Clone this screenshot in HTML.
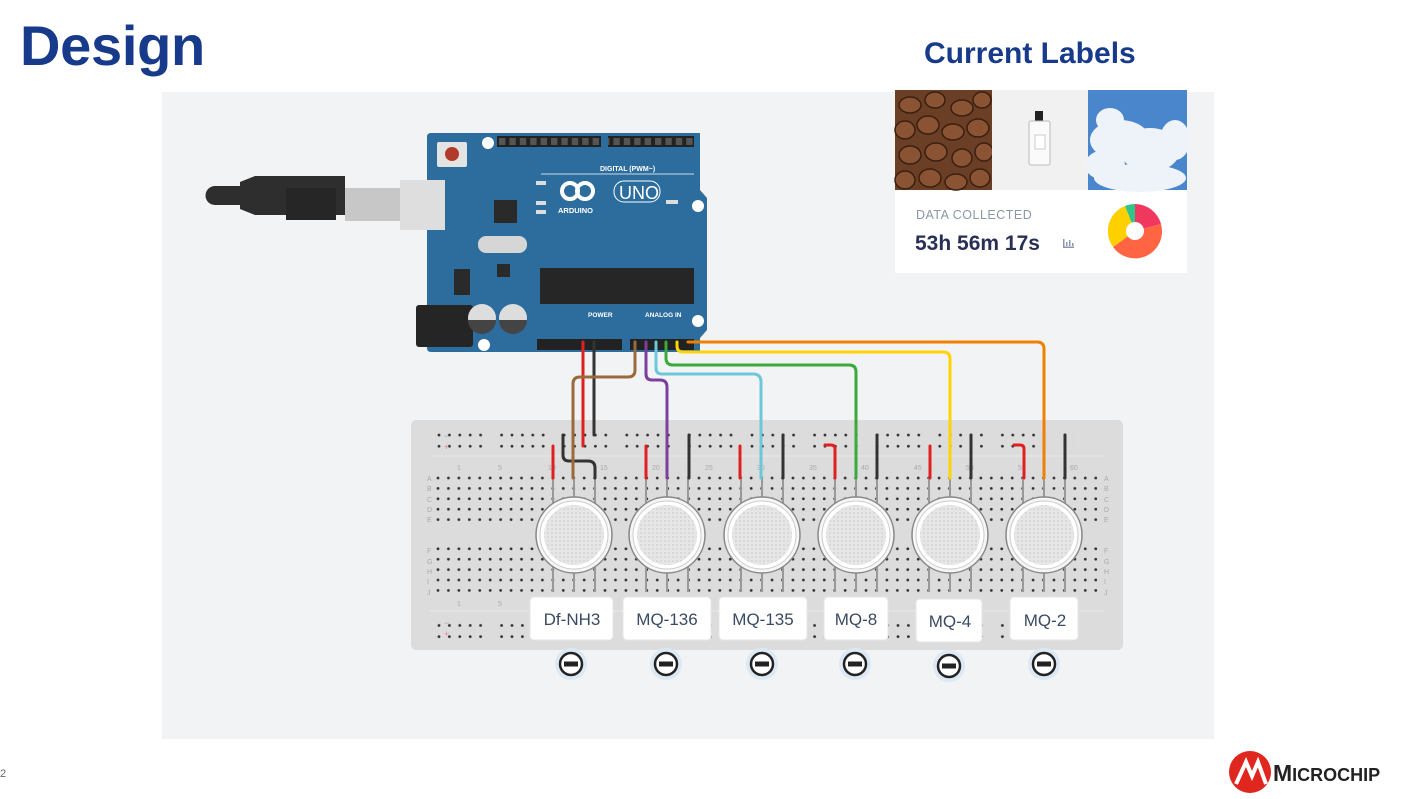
<!DOCTYPE html>
<html><head><meta charset="utf-8"><style>
html,body{margin:0;padding:0;background:#fff;width:1404px;height:799px;overflow:hidden;font-family:"Liberation Sans",sans-serif}
.abs{position:absolute}
</style></head><body>
<div class="abs" style="left:20px;top:13px;font-size:56px;font-weight:bold;color:#173a8a;letter-spacing:-0.3px">Design</div>
<div class="abs" style="left:924px;top:37px;font-size:30px;font-weight:bold;color:#173a8a">Current Labels</div>
<div class="abs" style="left:0;top:768px;font-size:11px;color:#666">2</div>
<svg class="abs" style="left:0;top:0" width="1404" height="799" viewBox="0 0 1404 799">
<defs>
<pattern id="hole" x="432.8" y="472.8" width="10.44" height="10.4" patternUnits="userSpaceOnUse"><circle cx="5.2" cy="5.2" r="1.4" fill="#333"/></pattern>
<pattern id="rail" x="434" y="430" width="62.6" height="11.2" patternUnits="userSpaceOnUse">
<circle cx="5" cy="5" r="1.4" fill="#333"/><circle cx="15.4" cy="5" r="1.4" fill="#333"/><circle cx="25.8" cy="5" r="1.4" fill="#333"/><circle cx="36.2" cy="5" r="1.4" fill="#333"/><circle cx="46.6" cy="5" r="1.4" fill="#333"/></pattern>
<pattern id="pins" x="497" y="136" width="10.4" height="11" patternUnits="userSpaceOnUse"><rect x="2" y="2" width="6.4" height="7" fill="#555"/></pattern>
<pattern id="mesh" width="4" height="4" patternUnits="userSpaceOnUse"><rect width="4" height="4" fill="#e6e6e6"/><circle cx="2" cy="2" r="0.8" fill="#c8c8c8"/></pattern>
</defs>
<rect x="162" y="92" width="1052" height="647" fill="#f2f3f5"/>
<!-- right card -->
<rect x="895" y="90" width="292" height="183" fill="#fff"/>
<g>
<rect x="895" y="90" width="97" height="100" fill="#6b3f25"/>
<g fill="#8a5434" stroke="#3a1f10" stroke-width="1.5">
<ellipse cx="910" cy="105" rx="11" ry="8"/><ellipse cx="935" cy="100" rx="10" ry="8"/><ellipse cx="962" cy="108" rx="11" ry="8"/><ellipse cx="982" cy="100" rx="9" ry="8"/>
<ellipse cx="905" cy="130" rx="10" ry="9"/><ellipse cx="928" cy="125" rx="11" ry="9"/><ellipse cx="953" cy="132" rx="11" ry="8"/><ellipse cx="978" cy="128" rx="11" ry="9"/>
<ellipse cx="910" cy="155" rx="11" ry="9"/><ellipse cx="936" cy="152" rx="11" ry="9"/><ellipse cx="962" cy="158" rx="10" ry="9"/><ellipse cx="984" cy="152" rx="9" ry="9"/>
<ellipse cx="905" cy="180" rx="10" ry="9"/><ellipse cx="930" cy="178" rx="11" ry="9"/><ellipse cx="956" cy="182" rx="11" ry="8"/><ellipse cx="980" cy="178" rx="10" ry="9"/>
</g>
<rect x="992" y="90" width="96" height="100" fill="#f1f1f1"/>
<rect x="1035" y="111" width="8" height="10" fill="#222"/>
<rect x="1029" y="121" width="21" height="44" rx="2" fill="#fafafa" stroke="#bbb"/>
<rect x="1035" y="135" width="10" height="14" fill="#fff" stroke="#ccc"/>
<rect x="1088" y="90" width="99" height="100" fill="#4a86cc"/>
<g fill="#eef3fa"><ellipse cx="1120" cy="140" rx="30" ry="20"/><ellipse cx="1150" cy="150" rx="30" ry="22"/><ellipse cx="1175" cy="140" rx="15" ry="20"/><ellipse cx="1105" cy="165" rx="20" ry="15"/><ellipse cx="1140" cy="178" rx="46" ry="14"/><ellipse cx="1110" cy="120" rx="14" ry="12"/></g>
</g>
<text x="916" y="219" font-size="12.5" fill="#8a97aa" font-family="Liberation Sans" letter-spacing="0.5">DATA COLLECTED</text>
<text x="915" y="250" font-size="21" font-weight="bold" fill="#2a2f55" font-family="Liberation Sans">53h 56m 17s</text>
<g fill="#8a97aa"><rect x="1063" y="239" width="1.5" height="9"/><rect x="1063" y="246.5" width="11" height="1.5"/><rect x="1066" y="242" width="1.5" height="4"/><rect x="1069" y="240" width="1.5" height="6"/><rect x="1072" y="243" width="1.5" height="3"/></g>
<g transform="translate(1135,231)">
<path d="M0,-27 A27,27 0 0 1 26,-7 L0,0Z" fill="#f0385f"/>
<path d="M26,-7 A27,27 0 0 1 -22,16 L0,0Z" fill="#ff6543"/>
<path d="M-22,16 A27,27 0 0 1 -10,-25 L0,0Z" fill="#ffd000"/>
<path d="M-10,-25 A27,27 0 0 1 0,-27 L0,0Z" fill="#2ec48a"/>
<circle r="9" fill="#fff"/>
</g>
<!-- USB -->
<path d="M215,186 L240,186 L240,182 L255,176 L345,176 L345,215 L255,215 L240,209 L240,205 L215,205 A9.5,9.5 0 0 1 215,186Z" fill="#2e2e2e"/>
<rect x="286" y="188" width="50" height="32" fill="#262626"/>
<rect x="345" y="188" width="55" height="33" fill="#c7c7c7"/>
<!-- Arduino -->
<path d="M431,133 L700,133 L700,190 L707,198 L707,330 L700,338 L700,352 L431,352 Q427,352 427,348 L427,137 Q427,133 431,133Z" fill="#2d6d9e"/>
<rect x="400" y="180" width="45" height="50" fill="#dedede"/>
<rect x="416" y="305" width="57" height="42" rx="3" fill="#252525"/>
<rect x="437" y="142" width="30" height="25" rx="2" fill="#e3e3e3"/><circle cx="452" cy="154" r="7" fill="#b13b2b"/>
<circle cx="488" cy="143" r="6" fill="#fff"/><circle cx="698" cy="206" r="6" fill="#fff"/><circle cx="698" cy="321" r="6" fill="#fff"/><circle cx="484" cy="345" r="6" fill="#fff"/>
<rect x="497" y="136" width="104" height="11" fill="#222"/><rect x="608" y="136" width="86" height="11" fill="#222"/>
<rect x="537" y="339" width="85" height="11" fill="#222"/><rect x="630" y="339" width="64" height="11" fill="#222"/>
<rect x="497" y="136" width="104" height="11" fill="url(#pins)"/><rect x="608" y="136" width="86" height="11" fill="url(#pins)"/>
<text x="600" y="171" font-size="7" fill="#fff" font-weight="bold" font-family="Liberation Sans">DIGITAL (PWM~)</text>
<line x1="541" y1="174" x2="694" y2="174" stroke="#fff" stroke-width="0.8"/>
<g fill="none" stroke="#fff" stroke-width="4"><circle cx="570" cy="191" r="8"/><circle cx="585" cy="191" r="8"/></g>
<text x="558" y="213" font-size="7.5" fill="#fff" font-weight="bold" font-family="Liberation Sans">ARDUINO</text>
<rect x="614" y="181" width="46" height="21" rx="10" fill="none" stroke="#fff" stroke-width="1"/>
<text x="619" y="199" font-size="18" fill="#fff" font-family="Liberation Sans">UNO</text>
<g fill="#ddd"><rect x="536" y="181" width="10" height="4"/><rect x="536" y="201" width="10" height="4"/><rect x="536" y="210" width="10" height="4"/><rect x="666" y="200" width="12" height="4"/></g>
<rect x="494" y="200" width="23" height="23" fill="#2a2a2a"/>
<rect x="478" y="236" width="49" height="17" rx="8" fill="#d6d6d6"/>
<rect x="497" y="264" width="13" height="13" fill="#2a2a2a"/>
<rect x="454" y="269" width="16" height="26" fill="#2a2a2a"/>
<rect x="540" y="268" width="154" height="36" fill="#262626"/>
<circle cx="482" cy="318" r="14" fill="#ddd"/><circle cx="513" cy="318" r="14" fill="#ddd"/>
<path d="M468,320 h28 a14,14 0 0 1 -28,0Z" fill="#444"/><path d="M499,320 h28 a14,14 0 0 1 -28,0Z" fill="#444"/>
<text x="588" y="317" font-size="6.5" fill="#fff" font-weight="bold" font-family="Liberation Sans">POWER</text>
<text x="645" y="317" font-size="6.5" fill="#fff" font-weight="bold" font-family="Liberation Sans">ANALOG IN</text>
<!-- breadboard -->
<rect x="411" y="420" width="712" height="230" rx="5" fill="#dcdcdc"/>
<line x1="430" y1="456" x2="1105" y2="456" stroke="#e8e8e8"/>
<line x1="430" y1="611" x2="1105" y2="611" stroke="#e8e8e8"/>
<rect x="432" y="472" width="670" height="53" fill="url(#hole)"/>
<rect x="432" y="545" width="670" height="52" fill="url(#hole)" transform="translate(0,-2)"/>
<rect x="434" y="430" width="640" height="22" fill="url(#rail)"/>
<rect x="434" y="617" width="640" height="22" fill="url(#rail)"/>
<g font-size="7" fill="#aaa" font-family="Liberation Sans">
<text x="427" y="481">A</text><text x="427" y="491">B</text><text x="427" y="502">C</text><text x="427" y="512">D</text><text x="427" y="522">E</text>
<text x="427" y="553">F</text><text x="427" y="564">G</text><text x="427" y="574">H</text><text x="427" y="584">I</text><text x="427" y="595">J</text>
<text x="1104" y="481">A</text><text x="1104" y="491">B</text><text x="1104" y="502">C</text><text x="1104" y="512">D</text><text x="1104" y="522">E</text>
<text x="1104" y="553">F</text><text x="1104" y="564">G</text><text x="1104" y="574">H</text><text x="1104" y="584">I</text><text x="1104" y="595">J</text>
<text x="457" y="470">1</text><text x="498" y="470">5</text><text x="548" y="470">10</text><text x="600" y="470">15</text><text x="652" y="470">20</text><text x="705" y="470">25</text><text x="757" y="470">30</text><text x="809" y="470">35</text><text x="861" y="470">40</text><text x="914" y="470">45</text><text x="966" y="470">50</text><text x="1018" y="470">55</text><text x="1070" y="470">60</text>
<text x="457" y="606">1</text><text x="498" y="606">5</text>
</g>
<g fill="#9ab" font-size="9"><text x="444" y="439">−</text><text x="444" y="626">−</text></g>
<g fill="#e88" font-size="9"><text x="444" y="450">+</text><text x="444" y="637">+</text></g>
<!-- sensors -->
<g>
<g transform="translate(574,535)"><g stroke="#999" stroke-width="2"><line x1="-21" y1="-57" x2="-21" y2="57"/><line x1="0" y1="-57" x2="0" y2="57"/><line x1="21" y1="-57" x2="21" y2="57"/></g><circle r="38" fill="#f6f6f6" stroke="#888" stroke-width="1.5"/><circle r="34" fill="#fff" stroke="#ccc"/><circle r="30" fill="url(#mesh)"/></g>
<g transform="translate(667,535)"><g stroke="#999" stroke-width="2"><line x1="-21" y1="-57" x2="-21" y2="57"/><line x1="0" y1="-57" x2="0" y2="57"/><line x1="21" y1="-57" x2="21" y2="57"/></g><circle r="38" fill="#f6f6f6" stroke="#888" stroke-width="1.5"/><circle r="34" fill="#fff" stroke="#ccc"/><circle r="30" fill="url(#mesh)"/></g>
<g transform="translate(762,535)"><g stroke="#999" stroke-width="2"><line x1="-21" y1="-57" x2="-21" y2="57"/><line x1="0" y1="-57" x2="0" y2="57"/><line x1="21" y1="-57" x2="21" y2="57"/></g><circle r="38" fill="#f6f6f6" stroke="#888" stroke-width="1.5"/><circle r="34" fill="#fff" stroke="#ccc"/><circle r="30" fill="url(#mesh)"/></g>
<g transform="translate(856,535)"><g stroke="#999" stroke-width="2"><line x1="-21" y1="-57" x2="-21" y2="57"/><line x1="0" y1="-57" x2="0" y2="57"/><line x1="21" y1="-57" x2="21" y2="57"/></g><circle r="38" fill="#f6f6f6" stroke="#888" stroke-width="1.5"/><circle r="34" fill="#fff" stroke="#ccc"/><circle r="30" fill="url(#mesh)"/></g>
<g transform="translate(950,535)"><g stroke="#999" stroke-width="2"><line x1="-21" y1="-57" x2="-21" y2="57"/><line x1="0" y1="-57" x2="0" y2="57"/><line x1="21" y1="-57" x2="21" y2="57"/></g><circle r="38" fill="#f6f6f6" stroke="#888" stroke-width="1.5"/><circle r="34" fill="#fff" stroke="#ccc"/><circle r="30" fill="url(#mesh)"/></g>
<g transform="translate(1044,535)"><g stroke="#999" stroke-width="2"><line x1="-21" y1="-57" x2="-21" y2="57"/><line x1="0" y1="-57" x2="0" y2="57"/><line x1="21" y1="-57" x2="21" y2="57"/></g><circle r="38" fill="#f6f6f6" stroke="#888" stroke-width="1.5"/><circle r="34" fill="#fff" stroke="#ccc"/><circle r="30" fill="url(#mesh)"/></g>
</g>
<!-- wires -->
<g fill="none" stroke-width="3" stroke-linecap="round" stroke-linejoin="round">
<path d="M553,446 V478 M646,446 V478 M740,446 V478 M930,446 V478" stroke="#e02020"/>
<path d="M825,445 h6 q4,0 4,4 V478 M1014,445 h6 q4,0 4,4 V478" stroke="#e02020"/>
<path d="M689,435 V478 M783,435 V478 M877,435 V478 M971,435 V478 M1065,435 V478" stroke="#333"/>
<path d="M563,435 V455 q0,6 6,6 H588 q7,0 7,7 V478" stroke="#333"/>
<path d="M583,342 V446" stroke="#e02020"/>
<path d="M594,342 V435" stroke="#333"/>
<path d="M635,342 V370 q0,7 -7,7 H580 q-7,0 -7,7 V478" stroke="#9a6a3a"/>
<path d="M646,342 V374 q0,6 6,6 H660 q7,0 7,7 V478" stroke="#7d3f9e"/>
<path d="M656,342 V368 q0,6 6,6 H753 q8,0 8,8 V478" stroke="#6cc8d8"/>
<path d="M666,342 V358 q0,7 7,7 H849 q7,0 7,7 V478" stroke="#3aaa3a"/>
<path d="M677,342 V346 q0,6 6,6 H943 q7,0 7,7 V478" stroke="#ffd400"/>
<path d="M688,342 H1037 q7,0 7,7 V478" stroke="#f08000"/>
</g>
<!-- labels -->
<g font-family="Liberation Sans" font-size="17" fill="#3a4a60" text-anchor="middle">
<g><rect x="530" y="597" width="83" height="43" rx="4" fill="#fff" stroke="#e6e6e6"/><text x="572" y="625">Df-NH3</text></g>
<g><rect x="623" y="597" width="88" height="43" rx="4" fill="#fff" stroke="#e6e6e6"/><text x="667" y="625">MQ-136</text></g>
<g><rect x="719" y="597" width="88" height="43" rx="4" fill="#fff" stroke="#e6e6e6"/><text x="763" y="625">MQ-135</text></g>
<g><rect x="824" y="597" width="64" height="43" rx="4" fill="#fff" stroke="#e6e6e6"/><text x="856" y="625">MQ-8</text></g>
<g><rect x="916" y="599" width="66" height="43" rx="4" fill="#fff" stroke="#e6e6e6"/><text x="950" y="627">MQ-4</text></g>
<g><rect x="1010" y="597" width="68" height="43" rx="4" fill="#fff" stroke="#e6e6e6"/><text x="1045" y="626">MQ-2</text></g>
</g>
<g>
<g transform="translate(571,664)"><circle r="16" fill="#dce8f4"/><circle r="11" fill="#fff" stroke="#222" stroke-width="2.5"/><rect x="-7" y="-2.5" width="14" height="5" fill="#222"/></g>
<g transform="translate(666,664)"><circle r="16" fill="#dce8f4"/><circle r="11" fill="#fff" stroke="#222" stroke-width="2.5"/><rect x="-7" y="-2.5" width="14" height="5" fill="#222"/></g>
<g transform="translate(762,664)"><circle r="16" fill="#dce8f4"/><circle r="11" fill="#fff" stroke="#222" stroke-width="2.5"/><rect x="-7" y="-2.5" width="14" height="5" fill="#222"/></g>
<g transform="translate(855,664)"><circle r="16" fill="#dce8f4"/><circle r="11" fill="#fff" stroke="#222" stroke-width="2.5"/><rect x="-7" y="-2.5" width="14" height="5" fill="#222"/></g>
<g transform="translate(949,666)"><circle r="16" fill="#dce8f4"/><circle r="11" fill="#fff" stroke="#222" stroke-width="2.5"/><rect x="-7" y="-2.5" width="14" height="5" fill="#222"/></g>
<g transform="translate(1044,664)"><circle r="16" fill="#dce8f4"/><circle r="11" fill="#fff" stroke="#222" stroke-width="2.5"/><rect x="-7" y="-2.5" width="14" height="5" fill="#222"/></g>
</g>
<!-- microchip logo -->
<circle cx="1250" cy="772" r="21" fill="#e0271f"/>
<path d="M1236,784 L1246,762 L1252,776 L1258,762 L1266,784" fill="none" stroke="#fff" stroke-width="4"/>
<text x="1273" y="781" font-size="23" font-weight="bold" fill="#222" font-family="Liberation Sans">M<tspan font-size="18">ICROCHIP</tspan></text>
</svg>
</body></html>
